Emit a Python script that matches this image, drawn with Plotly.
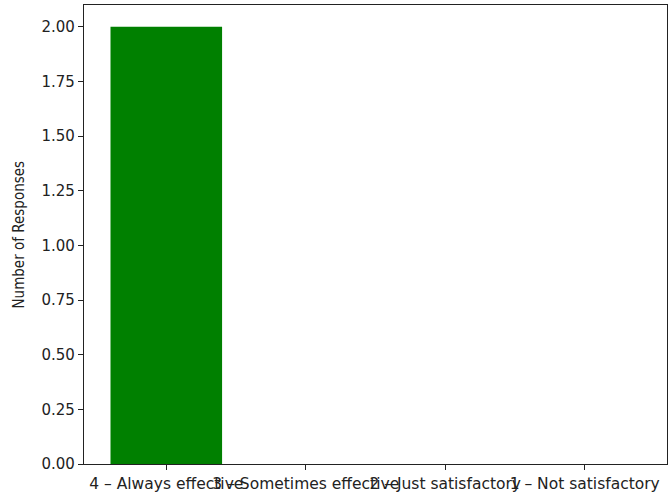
import plotly.graph_objects as go

categories = ["4 – Always effective", "3 – Sometimes effective", "2 – Just satisfactory", "1 – Not satisfactory"]
counts = [2, 0, 0, 0]
y_ticks = [0, 0.25, 0.5, 0.75, 1.0, 1.25, 1.5, 1.75, 2.0]
y_tick_labels = ["0.00", "0.25", "0.50", "0.75", "1.00", "1.25", "1.50", "1.75", "2.00"]

fig = go.Figure(go.Bar(x=list(range(len(categories))), y=counts, width=0.8,
                       marker=dict(color="green", line=dict(width=0))))

fig.update_layout(
    width=670, height=492,
    margin=dict(l=84, r=3, t=5, b=28),
    paper_bgcolor="white", plot_bgcolor="white",
    font=dict(family="DejaVu Sans", size=15, color="#222222"),
    showlegend=False,
)
fig.update_xaxes(range=[-0.59, 3.59], tickmode="array", tickvals=list(range(len(categories))),
                 ticktext=categories, tickangle=0, showgrid=False, zeroline=False,
                 tickfont=dict(size=15.5),
                 showline=True, mirror=True, linecolor="#222222", linewidth=1.3,
                 ticks="outside", ticklen=5, tickcolor="#222222", automargin=False)
fig.update_yaxes(range=[0, 2.1], tickmode="array", tickvals=y_ticks, ticktext=y_tick_labels,
                 showgrid=False, zeroline=False,
                 showline=True, mirror=True, linecolor="#222222", linewidth=1.3,
                 ticks="outside", ticklen=5, tickcolor="#222222", automargin=False)
fig.add_annotation(text="Number of Responses", xref="paper", yref="paper",
                   x=-(84 - 18) / 583, y=0.5, xanchor="center", yanchor="middle",
                   textangle=-90, showarrow=False,
                   font=dict(family="DejaVu Sans Condensed", size=15, color="#222222"))
fig.write_html("out.html", config={"responsive": False, "displayModeBar": False},
               post_script="document.body.style.margin='0';document.body.style.overflow='hidden';")
